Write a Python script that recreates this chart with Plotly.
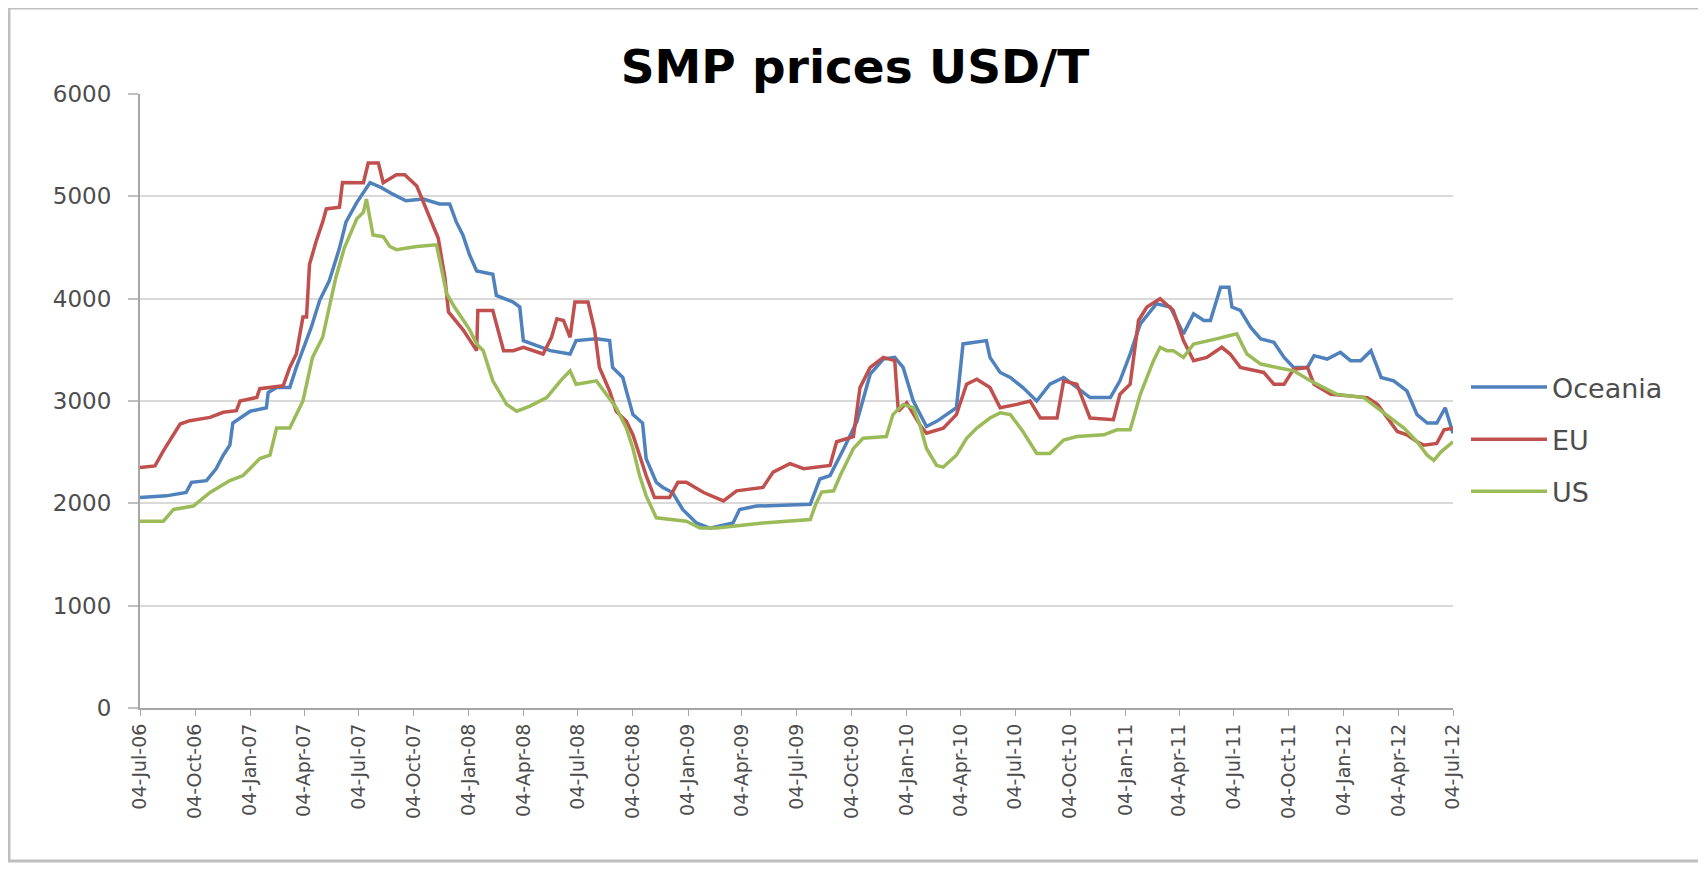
import plotly.graph_objects as go

# ---------------- data ----------------
oceania_dates = [
    "2006-07-04", "2006-08-17", "2006-09-19", "2006-09-28", "2006-10-23", "2006-11-08",
    "2006-11-20", "2006-12-01", "2006-12-06", "2006-12-18", "2007-01-04", "2007-01-31",
    "2007-02-03", "2007-02-17", "2007-03-11", "2007-03-22", "2007-04-02", "2007-04-16",
    "2007-04-30", "2007-05-16", "2007-06-02", "2007-06-13", "2007-07-01", "2007-07-12",
    "2007-07-23", "2007-08-11", "2007-08-30", "2007-09-21", "2007-10-20", "2007-11-16",
    "2007-12-03", "2007-12-14", "2007-12-25", "2008-01-05", "2008-01-17", "2008-02-13",
    "2008-02-19", "2008-03-18", "2008-03-29", "2008-04-04", "2008-05-19", "2008-06-21",
    "2008-07-01", "2008-08-04", "2008-08-26", "2008-08-31", "2008-09-17", "2008-09-23",
    "2008-10-04", "2008-10-20", "2008-10-26", "2008-11-12", "2008-11-23", "2008-12-09",
    "2008-12-26", "2009-01-18", "2009-02-09", "2009-03-20", "2009-03-31", "2009-04-28",
    "2009-07-27", "2009-08-12", "2009-08-29", "2009-09-21", "2009-10-13", "2009-11-04",
    "2009-11-26", "2009-12-15", "2009-12-29", "2010-01-15", "2010-02-06", "2010-02-23",
    "2010-03-28", "2010-04-08", "2010-05-17", "2010-05-23", "2010-06-09", "2010-06-26",
    "2010-07-17", "2010-08-09", "2010-08-31", "2010-09-23", "2010-10-15", "2010-11-06",
    "2010-12-10", "2010-12-26", "2011-01-12", "2011-01-29", "2011-02-25", "2011-03-20",
    "2011-04-11", "2011-04-28", "2011-05-15", "2011-05-26", "2011-06-12", "2011-06-26",
    "2011-07-01", "2011-07-15", "2011-08-01", "2011-08-18", "2011-09-09", "2011-09-26",
    "2011-10-12", "2011-11-04", "2011-11-15", "2011-12-07", "2011-12-29", "2012-01-15",
    "2012-02-01", "2012-02-18", "2012-03-06", "2012-03-27", "2012-04-18", "2012-05-05",
    "2012-05-22", "2012-06-07", "2012-06-21", "2012-07-04",
]
oceania_values = [
    2056, 2073, 2106, 2205, 2222, 2338,
    2470, 2569, 2785, 2834, 2900, 2934,
    3082, 3131, 3131, 3328, 3492, 3721,
    3984, 4175, 4494, 4750, 4941, 5037,
    5133, 5085, 5021, 4957, 4973, 4925,
    4925, 4750, 4622, 4431, 4271, 4239,
    4032, 3967, 3918, 3590, 3492, 3459,
    3590, 3607, 3590, 3328, 3230, 3098,
    2867, 2785, 2437, 2205, 2155, 2106,
    1940, 1808, 1758, 1808, 1940, 1973,
    1990, 2238, 2271, 2536, 2801, 3262,
    3410, 3426, 3328, 3000, 2751, 2801,
    2934, 3558, 3590, 3426, 3279, 3230,
    3131, 3000, 3164, 3230, 3131, 3033,
    3033, 3197, 3459, 3754, 3951, 3918,
    3656, 3852, 3787, 3787, 4112, 4112,
    3918, 3885, 3721, 3607, 3574, 3426,
    3328, 3328, 3443, 3410, 3476, 3394,
    3394, 3492, 3230, 3197, 3098, 2867,
    2785, 2785, 2934, 2685,
]

eu_dates = [
    "2006-07-04", "2006-07-29", "2006-08-12", "2006-08-29", "2006-09-09", "2006-09-25",
    "2006-10-29", "2006-11-20", "2006-12-12", "2006-12-18", "2007-01-15", "2007-01-20",
    "2007-02-28", "2007-03-11", "2007-03-22", "2007-04-02", "2007-04-08", "2007-04-13",
    "2007-04-24", "2007-05-05", "2007-05-11", "2007-06-02", "2007-06-07", "2007-07-12",
    "2007-07-20", "2007-08-06", "2007-08-14", "2007-09-05", "2007-09-19", "2007-10-09",
    "2007-10-20", "2007-11-06", "2007-11-14", "2007-11-25", "2007-12-01", "2007-12-26",
    "2008-01-12", "2008-01-17", "2008-01-19", "2008-02-13", "2008-03-02", "2008-03-18",
    "2008-04-04", "2008-05-07", "2008-05-21", "2008-05-30", "2008-06-10", "2008-06-21",
    "2008-06-29", "2008-07-21", "2008-08-01", "2008-08-09", "2008-08-26", "2008-09-06",
    "2008-09-23", "2008-10-04", "2008-10-15", "2008-10-26", "2008-11-09", "2008-12-04",
    "2008-12-18", "2009-01-01", "2009-01-30", "2009-03-04", "2009-03-26", "2009-05-09",
    "2009-05-26", "2009-06-23", "2009-07-16", "2009-08-29", "2009-09-09", "2009-10-07",
    "2009-10-18", "2009-11-04", "2009-11-26", "2009-12-15", "2009-12-21", "2010-01-04",
    "2010-01-26", "2010-02-06", "2010-03-06", "2010-03-28", "2010-04-14", "2010-05-01",
    "2010-05-23", "2010-06-09", "2010-07-07", "2010-07-29", "2010-08-15", "2010-09-12",
    "2010-09-23", "2010-10-15", "2010-11-06", "2010-12-15", "2010-12-26", "2011-01-12",
    "2011-01-26", "2011-02-09", "2011-03-03", "2011-03-25", "2011-04-11", "2011-04-28",
    "2011-05-20", "2011-06-14", "2011-06-28", "2011-07-15", "2011-08-23", "2011-09-09",
    "2011-09-26", "2011-10-12", "2011-11-04", "2011-11-15", "2011-12-13", "2012-01-15",
    "2012-02-12", "2012-02-29", "2012-03-16", "2012-04-02", "2012-04-18", "2012-05-05",
    "2012-05-16", "2012-06-07", "2012-06-19", "2012-07-04",
]
eu_values = [
    2350, 2366, 2513, 2677, 2775, 2808,
    2840, 2890, 2905, 3000, 3035, 3120,
    3148, 3328, 3459, 3820, 3820, 4335,
    4558, 4750, 4877, 4893, 5134, 5133,
    5325, 5325, 5133, 5212, 5212, 5100,
    4941, 4686, 4590, 4207, 3870, 3690,
    3525, 3492, 3885, 3885, 3492, 3492,
    3525, 3459, 3623, 3803, 3787, 3623,
    3967, 3967, 3688, 3328, 3098, 2900,
    2801, 2669, 2470, 2271, 2056, 2056,
    2205, 2205, 2106, 2023, 2122, 2155,
    2305, 2387, 2338, 2370, 2602, 2652,
    3131, 3328, 3426, 3394, 2900, 2983,
    2768, 2685, 2735, 2867, 3164, 3213,
    3131, 2934, 2967, 3000, 2834, 2834,
    3197, 3164, 2834, 2817, 3066, 3164,
    3787, 3918, 4000, 3885, 3590, 3394,
    3426, 3525, 3459, 3328, 3279, 3164,
    3164, 3311, 3328, 3164, 3066, 3049,
    3033, 2967, 2834, 2702, 2669, 2602,
    2569, 2586, 2718, 2735,
]

us_dates = [
    "2006-07-04", "2006-08-12", "2006-08-29", "2006-10-01", "2006-10-29", "2006-12-01",
    "2006-12-23", "2007-01-09", "2007-01-20", "2007-02-06", "2007-02-17", "2007-03-11",
    "2007-04-02", "2007-04-18", "2007-05-05", "2007-05-16", "2007-05-27", "2007-06-10",
    "2007-07-01", "2007-07-12", "2007-07-17", "2007-07-23", "2007-07-28", "2007-08-14",
    "2007-08-25", "2007-09-05", "2007-10-09", "2007-11-11", "2007-11-19", "2007-11-28",
    "2007-12-11", "2007-12-25", "2008-01-05", "2008-01-17", "2008-01-28", "2008-02-13",
    "2008-03-07", "2008-03-24", "2008-04-15", "2008-05-13", "2008-06-05", "2008-06-21",
    "2008-07-01", "2008-08-04", "2008-08-21", "2008-09-06", "2008-09-23", "2008-10-04",
    "2008-10-15", "2008-10-26", "2008-11-12", "2008-12-04", "2009-01-01", "2009-01-24",
    "2009-02-21", "2009-03-20", "2009-05-09", "2009-07-27", "2009-08-05", "2009-08-15",
    "2009-09-04", "2009-09-15", "2009-10-07", "2009-10-23", "2009-12-01", "2009-12-12",
    "2009-12-29", "2010-01-15", "2010-01-26", "2010-02-06", "2010-02-23", "2010-03-06",
    "2010-03-28", "2010-04-14", "2010-05-01", "2010-05-23", "2010-06-09", "2010-06-26",
    "2010-07-17", "2010-08-09", "2010-08-31", "2010-09-23", "2010-10-15", "2010-11-29",
    "2010-12-21", "2011-01-12", "2011-01-29", "2011-02-20", "2011-03-03", "2011-03-14",
    "2011-03-25", "2011-04-11", "2011-04-28", "2011-06-05", "2011-07-09", "2011-07-26",
    "2011-08-18", "2011-09-14", "2011-10-12", "2011-11-09", "2011-12-23", "2012-02-06",
    "2012-03-06", "2012-03-22", "2012-04-13", "2012-05-05", "2012-05-22", "2012-06-02",
    "2012-06-14", "2012-07-04",
]
us_values = [
    1825, 1825, 1940, 1973, 2106, 2222,
    2271, 2370, 2437, 2470, 2735, 2735,
    3000, 3426, 3623, 3918, 4207, 4494,
    4781, 4845, 4973, 4781, 4622, 4606,
    4510, 4479, 4510, 4526, 4303, 4048,
    3918, 3787, 3700, 3557, 3492, 3197,
    2967, 2900, 2950, 3033, 3197, 3295,
    3164, 3197, 3066, 2934, 2735, 2536,
    2271, 2073, 1858, 1841, 1825, 1758,
    1758, 1775, 1808, 1841, 1990, 2110,
    2122, 2271, 2536, 2636, 2652, 2867,
    2967, 2934, 2768, 2536, 2370, 2354,
    2470, 2636, 2735, 2834, 2884, 2867,
    2702, 2487, 2487, 2619, 2652, 2669,
    2718, 2718, 3066, 3394, 3525, 3492,
    3492, 3426, 3557, 3607, 3656, 3459,
    3361, 3328, 3295, 3197, 3066, 3033,
    2900, 2834, 2735, 2602, 2470, 2420,
    2503, 2602,
]

series_names = ["Oceania", "EU", "US"]
series_colors = ["#4F81BD", "#C0504D", "#9BBB59"]

title_text = "SMP prices USD/T"
x_start, x_end = "2006-07-04", "2012-07-04"
y_ticks = [0, 1000, 2000, 3000, 4000, 5000, 6000]

# ---------------- figure ----------------
fig = go.Figure()
for i, (name, xs, ys) in enumerate(zip(series_names,
                                       [oceania_dates, eu_dates, us_dates],
                                       [oceania_values, eu_values, us_values])):
    fig.add_trace(go.Scatter(
        x=xs, y=ys, mode="lines", name=name,
        line=dict(color=series_colors[i], width=3.5),
        legendgroup=name,
    ))

# the page adds an 8px body margin, so the figure is sized to fit the window
W, H = 1698, 861
L, R, T, B = 132, 253, 86, 161
pw, ph = W - L - R, H - T - B

def px_to_paper_x(px):
    return (px - L) / pw

def px_to_paper_y(py):
    return (H - B - py) / ph

FONT = "DejaVu Sans, Verdana, sans-serif"
ytick_font = dict(family=FONT, size=23, color="#4D4D4D")
xtick_font = dict(family=FONT, size=19, color="#4D4D4D")

fig.update_layout(
    width=W, height=H,
    margin=dict(l=L, r=R, t=T, b=B),
    paper_bgcolor="white", plot_bgcolor="white",
    title=dict(text="<b>" + title_text + "</b>", x=px_to_paper_x(847), xref="paper",
               xanchor="center", y=1 - 59 / H, yanchor="middle",
               font=dict(family=FONT, size=47, color="#000000")),
    showlegend=True,
    legend=dict(x=px_to_paper_x(1458), xanchor="left", y=px_to_paper_y(355), yanchor="top",
                font=dict(family=FONT, size=27, color="#4D4D4D"),
                tracegroupgap=14, itemwidth=76, bgcolor="rgba(0,0,0,0)"),
    xaxis=dict(
        type="date", range=[x_start, x_end],
        tick0=x_start, dtick="M3", tickformat="%d-%b-%y", tickangle=-90,
        tickfont=xtick_font, ticks="outside", ticklen=6, tickcolor="#A6A6A6",
        showline=True, linecolor="#A6A6A6", linewidth=2,
        showgrid=False, zeroline=False,
    ),
    yaxis=dict(
        range=[0, 6000], tickvals=y_ticks, tickfont=ytick_font,
        ticks="outside", ticklen=10, tickcolor="#BFBFBF", tickwidth=2,
        ticklabelstandoff=12,
        showline=True, linecolor="#A6A6A6", linewidth=2,
        showgrid=True, gridcolor="#D9D9D9", gridwidth=2, zeroline=False,
    ),
)

fig.add_shape(type="rect", xref="paper", yref="paper",
              x0=px_to_paper_x(1), x1=px_to_paper_x(1692),
              y0=px_to_paper_y(853), y1=px_to_paper_y(0),
              line=dict(color="#BFBFBF", width=3), layer="below")

fig.write_html("out.html")
